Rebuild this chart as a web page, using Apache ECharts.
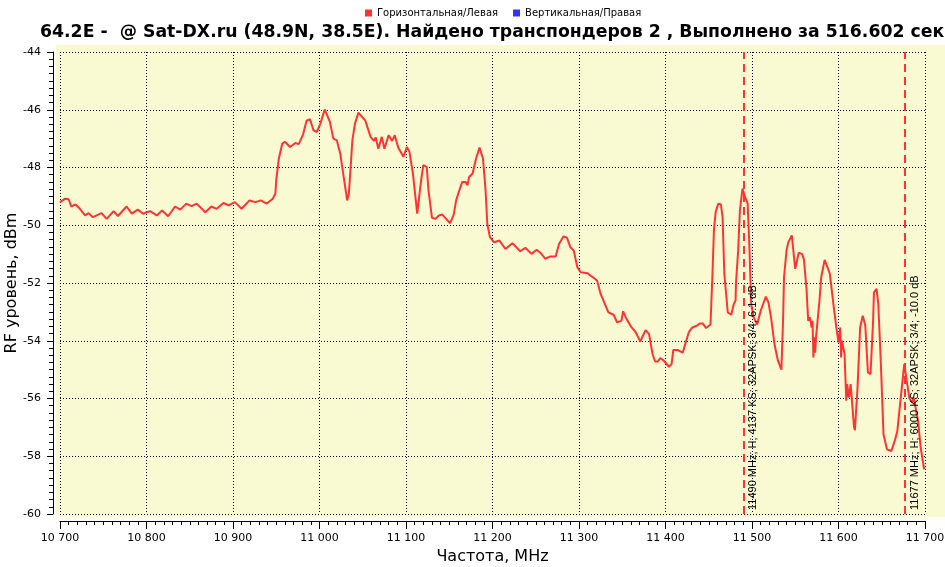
<!DOCTYPE html>
<html>
<head>
<meta charset="utf-8">
<script src="https://cdn.jsdelivr.net/npm/echarts@6/dist/echarts.min.js"></script>
<style>
  html, body { margin: 0; padding: 0; background: #fff; }
  #scan { width: 945px; height: 567px; }
</style>
</head>
<body>
<div id="scan"></div>
<script>
// частота, MHz
const freqs = [
  10700, 10706, 10710, 10713, 10718, 10723, 10729, 10733, 10738, 10748,
  10754, 10762, 10767, 10777, 10783, 10790, 10796, 10804, 10812, 10818,
  10825, 10833, 10839, 10846, 10852, 10858, 10868, 10875, 10881, 10889,
  10895, 10902, 10910, 10919, 10926, 10932, 10939, 10946, 10949, 10950,
  10953, 10957, 10960, 10966, 10972, 10976, 10981, 10985, 10989, 10993,
  10997, 11001, 11006, 11012, 11016, 11020, 11024, 11028, 11032, 11034,
  11038, 11041, 11045, 11049, 11053, 11059, 11063, 11065, 11068, 11072,
  11075, 11080, 11084, 11087, 11091, 11097, 11101, 11104, 11108, 11113,
  11117, 11120, 11124, 11126, 11130, 11134, 11138, 11142, 11148, 11151,
  11155, 11158, 11161, 11165, 11169, 11171, 11173, 11177, 11181, 11185,
  11189, 11192, 11194, 11197, 11202, 11208, 11215, 11223, 11232, 11238,
  11245, 11251, 11256, 11261, 11267, 11273, 11277, 11282, 11286, 11290,
  11294, 11298, 11302, 11310, 11313, 11317, 11321, 11325, 11330, 11334,
  11340, 11344, 11349, 11351, 11355, 11360, 11365, 11371, 11373, 11377,
  11381, 11385, 11388, 11391, 11394, 11398, 11404, 11407, 11409, 11414,
  11420, 11423, 11427, 11431, 11436, 11440, 11443, 11447, 11452, 11454,
  11456, 11458, 11461, 11464, 11466, 11468, 11472, 11476, 11479, 11481,
  11481.5, 11484, 11486, 11489, 11492, 11495, 11497, 11499, 11502, 11506,
  11510, 11516, 11519, 11522, 11526, 11530, 11534, 11536, 11537, 11540,
  11542, 11546, 11550, 11554, 11558, 11560, 11563, 11565, 11567, 11569,
  11570, 11571, 11572, 11573, 11574, 11578, 11580, 11584, 11586, 11590,
  11595, 11598, 11600, 11602, 11603, 11604, 11607, 11609, 11610, 11612,
  11614, 11618, 11619, 11622, 11625, 11628, 11631, 11634, 11637, 11640,
  11641, 11644, 11646, 11649, 11652, 11656, 11661, 11665, 11668, 11672,
  11676, 11678, 11682, 11685, 11687, 11692, 11695, 11699
];
// уровень, dBm (горизонтальная поляризация)
const levelsH = [
  -49.20, -49.08, -49.10, -49.35, -49.28, -49.43, -49.66, -49.58, -49.72, -49.58,
  -49.78, -49.51, -49.68, -49.35, -49.60, -49.46, -49.60, -49.51, -49.66, -49.49,
  -49.69, -49.35, -49.46, -49.25, -49.34, -49.25, -49.55, -49.35, -49.43, -49.23,
  -49.31, -49.20, -49.43, -49.14, -49.20, -49.14, -49.25, -49.08, -48.90, -48.44,
  -47.69, -47.17, -47.11, -47.29, -47.15, -47.19, -46.86, -46.38, -46.33, -46.71,
  -46.77, -46.48, -45.99, -46.42, -47.00, -47.06, -47.52, -48.33, -49.14, -48.90,
  -47.06, -46.48, -46.10, -46.24, -46.38, -46.94, -47.08, -46.96, -47.35, -46.94,
  -47.35, -46.88, -47.08, -46.88, -47.31, -47.63, -47.29, -47.46, -48.21, -49.60,
  -48.56, -47.92, -47.98, -48.79, -49.74, -49.78, -49.66, -49.63, -49.83, -49.93,
  -49.65, -49.14, -48.85, -48.50, -48.50, -48.62, -48.33, -48.21, -47.69, -47.31,
  -47.69, -48.79, -49.95, -50.41, -50.59, -50.53, -50.82, -50.62, -50.90, -50.78,
  -50.99, -50.85, -50.97, -51.16, -51.08, -51.08, -50.64, -50.39, -50.43, -50.76,
  -50.88, -51.45, -51.63, -51.66, -51.74, -51.82, -51.92, -52.38, -52.73, -53.02,
  -53.10, -53.36, -53.31, -52.98, -53.25, -53.51, -53.68, -54.03, -53.88, -53.63,
  -53.77, -54.46, -54.72, -54.72, -54.60, -54.69, -54.90, -54.81, -54.32, -54.32,
  -54.41, -54.10, -53.70, -53.54, -53.48, -53.40, -53.40, -53.56, -53.44, -51.92,
  -50.18, -49.54, -49.25, -49.28, -49.72, -51.68, -53.02, -53.10, -52.73, -52.60,
  -52.00, -50.88, -49.49, -48.73, -49.02, -49.25, -50.76, -52.73, -53.19, -53.44,
  -52.96, -52.47, -52.67, -53.19, -54.12, -54.69, -55.00, -53.20, -51.80, -50.85,
  -50.59, -50.35, -51.51, -50.95, -51.00, -51.18, -52.20, -53.31, -53.19, -53.54,
  -53.31, -54.58, -53.88, -54.41, -53.88, -52.61, -51.80, -51.20, -51.22, -51.68,
  -52.96, -53.65, -54.06, -53.54, -54.58, -54.00, -54.46, -56.08, -55.50, -55.97,
  -55.50, -57.00, -57.10, -55.62, -53.54, -53.13, -53.48, -55.10, -55.16, -53.31,
  -52.32, -52.20, -52.73, -54.81, -57.24, -57.76, -57.82, -57.47, -57.13, -55.97,
  -54.81, -54.87, -56.00, -56.14, -55.97, -56.78, -57.70, -58.45
];
// найденные транспондеры
const tpFreqs = [11490, 11677];
const tpLabels = [
  '11490 MHz; H; 4137 KS; 32APSK; 3/4; 6.1 dB',
  '11677 MHz; H; 6000 KS; 32APSK; 3/4; -10.0 dB'
];
const seriesNames = ['Горизонтальная/Левая', 'Вертикальная/Правая'];
const titleText = '64.2E -  @ Sat-DX.ru (48.9N, 38.5E). Найдено транспондеров 2 , Выполнено за 516.602 сек';

const font = 'DejaVu Sans';
const chart = echarts.init(document.getElementById('scan'));
chart.setOption({
  animation: false,
  backgroundColor: '#ffffff',
  textStyle: { fontFamily: font, color: '#000' },
  graphic: [{
    type: 'rect',
    z: -10,
    silent: true,
    shape: { x: 56, y: 45, width: 889, height: 472 },
    style: { fill: '#fafad2' }
  }],
  title: {
    text: titleText,
    left: 40,
    top: 24,
    padding: 0,
    textStyle: { fontFamily: font, fontSize: 17.3, fontWeight: 'bold', color: '#000' }
  },
  legend: {
    left: 365,
    top: 8,
    padding: 0,
    itemWidth: 7,
    itemHeight: 7,
    itemGap: 15,
    icon: 'rect',
    textStyle: { fontFamily: font, fontSize: 10, color: '#000' },
    data: seriesNames
  },
  grid: { left: 60, right: 20, top: 52, bottom: 53, outerBoundsMode: 'none', containLabel: false },
  xAxis: {
    type: 'value',
    min: 10700,
    max: 11700,
    interval: 100,
    offset: 7,
    name: 'Частота, MHz',
    nameLocation: 'middle',
    nameGap: 28,
    nameMoveOverlap: false,
    nameTextStyle: { fontFamily: font, fontSize: 16, color: '#000' },
    axisLine: { lineStyle: { color: '#000', width: 1 } },
    axisTick: { length: 8, lineStyle: { color: '#000' } },
    minorTick: { show: true, splitNumber: 10, length: 4, lineStyle: { color: '#000' } },
    axisLabel: {
      margin: 12,
      fontSize: 11,
      color: '#000',
      formatter: v => String(v).replace(/\B(?=(\d{3})+(?!\d))/g, ' ')
    },
    splitLine: { show: true, lineStyle: { color: '#000', type: [1, 2], width: 1 } }
  },
  yAxis: {
    type: 'value',
    min: -60,
    max: -44,
    interval: 2,
    offset: 7,
    name: 'RF уровень, dBm',
    nameLocation: 'middle',
    nameGap: 33,
    nameMoveOverlap: false,
    nameTextStyle: { fontFamily: font, fontSize: 16, color: '#000' },
    axisLine: { show: true, lineStyle: { color: '#000', width: 1 } },
    axisTick: { show: true, length: 6, lineStyle: { color: '#000' } },
    minorTick: { show: true, splitNumber: 8, length: 4, lineStyle: { color: '#000' } },
    axisLabel: { margin: 12, fontSize: 11, color: '#000' },
    splitLine: { show: true, lineStyle: { color: '#000', type: [1, 2], width: 1 } }
  },
  series: [
    {
      name: seriesNames[0],
      type: 'line',
      color: '#ff3333',
      showSymbol: false,
      symbol: 'none',
      lineStyle: { width: 2, color: '#ff3333' },
      data: freqs.map((f, i) => [f, levelsH[i]]),
      markLine: {
        silent: true,
        symbol: ['none', 'none'],
        lineStyle: { color: '#ff3333', type: [8, 5], width: 2 },
        label: {
          show: true,
          position: 'insideStartBottom',
          distance: 4,
          fontFamily: 'Liberation Sans',
          fontSize: 11,
          color: '#000'
        },
        data: tpFreqs.map((f, i) => ({ xAxis: f, label: { formatter: tpLabels[i] } }))
      }
    },
    {
      name: seriesNames[1],
      type: 'line',
      color: '#3333ff',
      showSymbol: false,
      data: []
    }
  ]
});
</script>
</body>
</html>
